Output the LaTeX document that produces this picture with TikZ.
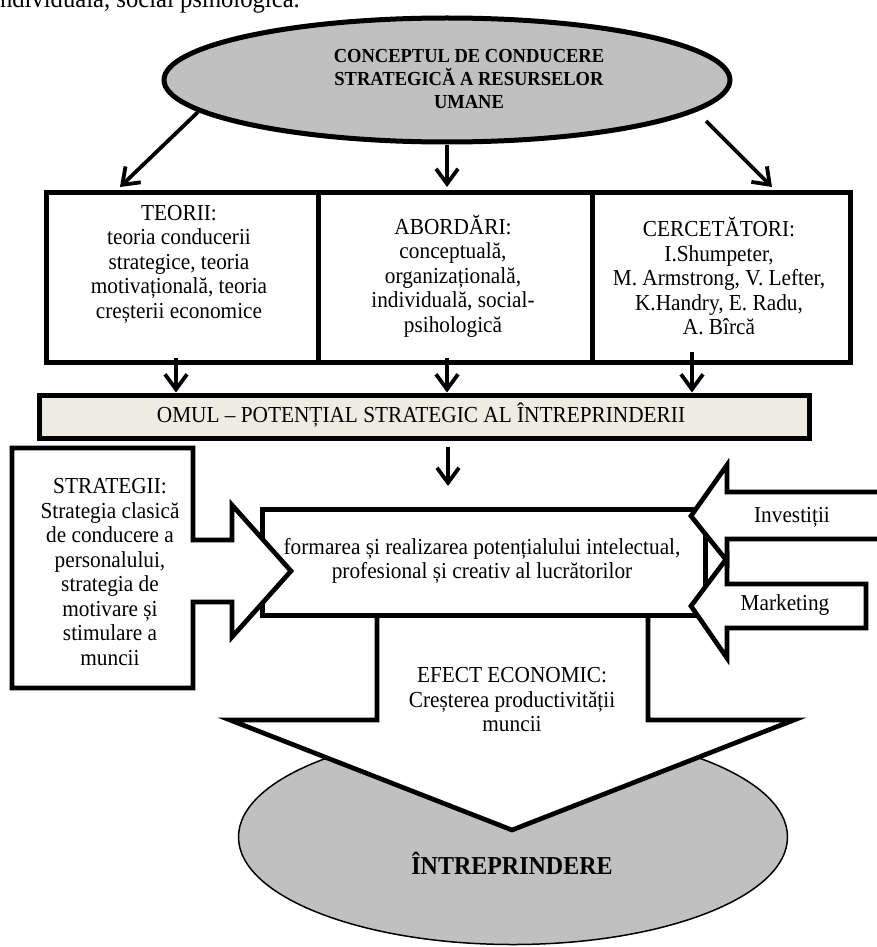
\documentclass[tikz,border=0pt]{standalone}
\usepackage{fontspec}
\setmainfont{Liberation Serif}[FakeStretch=0.93]
\usetikzlibrary{arrows.meta,shapes.geometric}
\definecolor{ellgray}{RGB}{192,192,192}
\definecolor{beige}{RGB}{238,236,225}
\begin{document}
\begin{tikzpicture}[x=1pt,y=-1pt,
  txt/.style={font=\fontsize{22.9}{24.5}\selectfont, align=center, inner sep=0pt},
  boldtxt/.style={font=\fontsize{19.9}{23.3}\selectfont\bfseries, align=center, inner sep=0pt},
  conn/.style={line width=3.8pt, -{Straight Barb[length=15pt,width=22pt]}},
  thickbox/.style={draw, line width=5pt, inner sep=0pt},
  bigarrow/.style={draw, fill=white, line width=4.7pt, line join=miter},
]
\useasboundingbox (0,0) rectangle (877,947);
\clip (0,0) rectangle (877,947);

\node[anchor=base west, font=\fontsize{26.5}{30}\selectfont, inner sep=0] (prev) at (-7,8) {individuală, social psihologică.};

% top ellipse
\node[ellipse, draw, line width=5pt, fill=ellgray, minimum width=566pt, minimum height=124pt, inner sep=0] (concept) at (447,80) {};
\node[boldtxt] (concepttxt) at (469,79) {CONCEPTUL DE CONDUCERE\\STRATEGICĂ A RESURSELOR\\UMANE};

% three boxes
\node[thickbox, minimum width=272pt, minimum height=170pt, anchor=north west] (teorii) at (44,190) {};
\node[thickbox, minimum width=274pt, minimum height=170pt, anchor=north west] (abord) at (316,190) {};
\node[thickbox, minimum width=258pt, minimum height=170pt, anchor=north west] (cerc) at (590,190) {};
\node[txt] (teoriitxt) at (179,264) {TEORII:\\teoria conducerii\\strategice, teoria\\motivațională, teoria\\creșterii economice};
\node[txt] (abordtxt) at (453,276) {ABORDĂRI:\\conceptuală,\\organizațională,\\individuală, social-\\psihologică};
\node[txt] (cerctxt) at (719,276) {CERCETĂTORI:\\I.Shumpeter,\\M. Armstrong, V. Lefter,\\K.Handry, E. Radu,\\A. Bîrcă};

% arrows from the ellipse
\coordinate (e1) at (198,112);
\coordinate (e3) at (706,121);
\coordinate (b1) at (120,187);
\coordinate (b2) at (447,187);
\coordinate (b3) at (772,187);
\draw[conn] (e1) -- (b1);
\draw[conn] (concept.south) -- (b2);
\draw[conn] (e3) -- (b3);

% OMUL bar
\node[thickbox, fill=beige, minimum width=770pt, minimum height=43pt, anchor=north west] (omul) at (36.5,392.5) {};
\node[txt] (omultxt) at (421,415) {OMUL – POTENȚIAL STRATEGIC AL ÎNTREPRINDERII};

\coordinate (s1) at (176,358);
\coordinate (s2) at (447,358);
\coordinate (s3) at (692,352);
\draw[conn] (s1) -- (s1 |- omul.north);
\draw[conn] (s2) -- (s2 |- omul.north);
\draw[conn] (s3) -- (s3 |- omul.north);

\coordinate (o1) at (448,447);
\coordinate (o2) at (448,486);
\draw[conn] (o1) -- (o2);

% enterprise ellipse
\node[ellipse, draw, line width=1.5pt, fill=ellgray, minimum width=549pt, minimum height=215pt, inner sep=0] (intr) at (513,837) {};
\node[font=\fontsize{25.8}{28}\selectfont\bfseries, inner sep=0, anchor=base] (intrtxt) at (512,874) {ÎNTREPRINDERE};

% economic effect arrow
\draw[bigarrow] (377,613) -- (377,720) -- (230,720) -- (512,830) -- (794,720) -- (648,720) -- (648,613);
\node[txt] (efecttxt) at (512,700) {EFECT ECONOMIC:\\Creșterea productivității\\muncii};

% central box
\node[thickbox, fill=white, minimum width=443pt, minimum height=106pt, anchor=north west] (formare) at (260,507) {};
\node[txt] (formtxt) at (482,561) {formarea și realizarea potențialului intelectual,\\profesional și creativ al lucrătorilor};

% strategies arrow
\draw[bigarrow] (12,448) -- (193,448) -- (193,540) -- (232,540) -- (232,505) -- (291,571) -- (232,637) -- (232,602) -- (193,602) -- (193,688) -- (12,688) -- cycle;
\node[txt] (strattxt) at (110,572) {STRATEGII:\\Strategia clasică\\de conducere a\\personalului,\\strategia de\\motivare și\\stimulare a\\muncii};

% investments arrow
\draw[bigarrow] (900,492) -- (727,492) -- (727,465) -- (691,516) -- (727,561) -- (727,539) -- (900,539);
\node[txt] (invtxt) at (792,517) {Investiții};

% marketing arrow
\draw[bigarrow] (866,584) -- (727,584) -- (727,558) -- (691,606) -- (727,658) -- (727,628) -- (866,628) -- cycle;
\node[txt] (marktxt) at (785,605) {Marketing};
\end{tikzpicture}
\end{document}
